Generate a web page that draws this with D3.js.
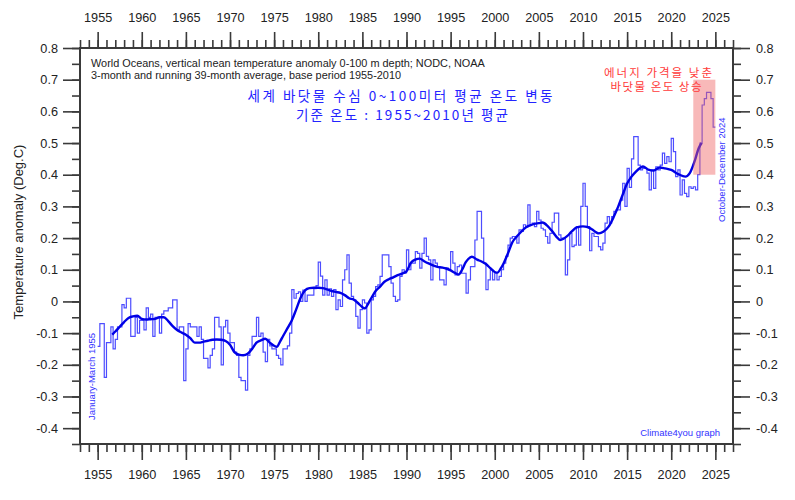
<!DOCTYPE html>
<html>
<head>
<meta charset="utf-8">
<script src="https://cdn.jsdelivr.net/npm/d3@7"></script>
<style>
  body { margin: 0; background: #fff; }
  svg { display: block; font-family: "Liberation Sans", Arial, sans-serif; }
</style>
</head>
<body>
<div id="chart"></div>
<script>
// 3-month values, Jan-Mar 1955 .. Oct-Dec 2024, four per year
var startYear = 1955;
var quarterly = [
  -0.142, -0.07, -0.07, -0.24,     // 1955
  -0.13, -0.13, -0.08, -0.15,
  -0.12, -0.08, -0.08, -0.01,
  -0.02, 0.01, 0.01, -0.11,
  -0.11, -0.05, -0.10, -0.06,
  -0.06, -0.09, -0.02, -0.05,      // 1960
  -0.04, -0.11, -0.05, -0.05,
  -0.10, -0.04, -0.03, -0.03,
  -0.02, -0.02, 0.005, 0.005,
  -0.09, -0.08, -0.08, -0.25,
  -0.15, -0.07, -0.08, -0.08,      // 1965
  -0.08, -0.11, -0.08, -0.12,
  -0.18, -0.18, -0.21, -0.17,
  -0.15, -0.05, -0.05, -0.08,
  -0.20, -0.08, -0.06, -0.10,
  -0.13, -0.13, -0.16, -0.17,      // 1970
  -0.24, -0.25, -0.25, -0.28,
  -0.17, -0.15, -0.11, -0.11,
  -0.05, -0.11, -0.10, -0.16,
  -0.19, -0.12, -0.14, -0.15,
  -0.15, -0.17, -0.18, -0.20,      // 1975
  -0.15, -0.15, -0.14, -0.10,
  0.037, 0.01, 0.025, 0.03,
  0.0, 0.036, 0.0, 0.02,
  0.02, 0.02, 0.04, 0.05,
  0.124, 0.08, 0.02, 0.068,        // 1980
  0.02, 0.04, 0.016, 0.037,
  -0.026, 0.005, -0.016, 0.068,
  0.10, 0.147, 0.058, 0.016,
  0.005, -0.047, -0.084, -0.026,
  0.005, -0.005, -0.10, -0.09,     // 1985
  0.005, 0.016, 0.047, 0.052,
  0.079, 0.147, 0.147, 0.147,
  0.11, 0.058, 0.016, 0.0,
  0.005, 0.079, 0.10, 0.09,
  0.163, 0.10, 0.121, 0.121,       // 1990
  0.157, 0.152, 0.105, 0.152,
  0.20, 0.142, 0.131, 0.068,
  0.131, 0.121, 0.11, 0.068,
  0.068, 0.052, 0.105, 0.10,
  0.157, 0.121, 0.084, 0.11,       // 1995
  0.115, 0.089, 0.089, 0.026,
  0.068, 0.11, 0.11, 0.194,
  0.284, 0.284, 0.20, 0.121,
  0.037, 0.068, 0.10, 0.068,
  0.089, 0.068, 0.079, 0.10,       // 2000
  0.121, 0.142, 0.178, 0.20,
  0.205, 0.205, 0.184, 0.226,
  0.221, 0.242, 0.236, 0.305,
  0.242, 0.247, 0.236, 0.284,
  0.257, 0.231, 0.226, 0.205,      // 2005
  0.184, 0.215, 0.25, 0.279,
  0.279, 0.21, 0.20, 0.20,
  0.084, 0.131, 0.215, 0.173,
  0.178, 0.236, 0.178, 0.30,
  0.373, 0.30, 0.236, 0.16,        // 2010
  0.215, 0.205, 0.205, 0.173,
  0.163, 0.184, 0.247, 0.268,
  0.247, 0.268, 0.284, 0.289,
  0.289, 0.32, 0.373, 0.30,
  0.42, 0.36, 0.45, 0.52,          // 2015
  0.52, 0.43, 0.415, 0.42,
  0.42, 0.405, 0.352, 0.415,
  0.357, 0.425, 0.415, 0.43,
  0.468, 0.436, 0.457, 0.441,
  0.515, 0.473, 0.394, 0.415,      // 2020
  0.336, 0.384, 0.341, 0.331,
  0.362, 0.357, 0.362, 0.352,
  0.40, 0.50, 0.62, 0.64,
  0.66, 0.66, 0.64, 0.55
];

// running 39-month average
var avgYears = [
  1956.65, 1957, 1957.5, 1958, 1958.5, 1959, 1959.5, 1960, 1960.5, 1961, 1961.5, 1962, 1962.5,
  1963, 1963.5, 1964, 1964.5, 1965, 1965.5, 1966, 1966.5, 1967, 1967.5, 1968, 1968.5, 1969,
  1969.5, 1970, 1970.5, 1971, 1971.5, 1972, 1972.5, 1973, 1973.5, 1974, 1974.5, 1975, 1975.3,
  1975.7, 1976, 1976.5, 1977, 1977.5, 1978, 1978.5, 1979, 1979.5, 1980, 1980.5, 1981, 1981.5,
  1982, 1982.5, 1983, 1983.5, 1984, 1984.5, 1985, 1985.3, 1985.6, 1986, 1986.5, 1987, 1987.5,
  1988, 1988.5, 1989, 1989.5, 1990, 1990.5, 1991, 1991.5, 1992, 1992.5, 1993, 1993.5, 1994,
  1994.5, 1995, 1995.5, 1995.9, 1996.3, 1996.7, 1997, 1997.4, 1998, 1998.5, 1999, 1999.5, 2000,
  2000.3, 2000.7, 2001, 2001.5, 2002, 2002.5, 2003, 2003.5, 2004, 2004.5, 2005, 2005.4, 2006,
  2006.5, 2007, 2007.4, 2007.8, 2008.2, 2008.7, 2009.3, 2010, 2010.5, 2011, 2011.5, 2011.8,
  2012.3, 2012.9, 2013.5, 2014, 2014.5, 2015, 2015.5, 2016, 2016.5, 2016.8, 2017.4, 2018,
  2018.7, 2019.3, 2020, 2020.8, 2021.6, 2022.1, 2022.7, 2023.1, 2023.45
];
var avgValues = [
  -0.105, -0.095, -0.08, -0.065, -0.052, -0.047, -0.045, -0.055, -0.057, -0.056, -0.055, -0.05, -0.05,
  -0.062, -0.078, -0.09, -0.098, -0.105, -0.116, -0.13, -0.13, -0.127, -0.124, -0.121, -0.12, -0.121,
  -0.125, -0.137, -0.16, -0.168, -0.17, -0.165, -0.15, -0.13, -0.123, -0.118, -0.13, -0.14, -0.143,
  -0.125, -0.11, -0.085, -0.06, -0.025, 0.012, 0.035, 0.042, 0.043, 0.043, 0.042, 0.038, 0.033,
  0.03, 0.027, 0.02, 0.01, 0.006, -0.005, -0.018, -0.022, -0.01, 0.01, 0.033, 0.047, 0.062,
  0.07, 0.076, 0.083, 0.088, 0.095, 0.122, 0.132, 0.135, 0.127, 0.12, 0.114, 0.109, 0.107,
  0.104, 0.098, 0.09, 0.085, 0.10, 0.123, 0.134, 0.141, 0.132, 0.126, 0.118, 0.105, 0.093,
  0.091, 0.105, 0.12, 0.152, 0.187, 0.205, 0.22, 0.233, 0.24, 0.245, 0.247, 0.249, 0.238,
  0.222, 0.204, 0.194, 0.198, 0.206, 0.22, 0.234, 0.237, 0.235, 0.228, 0.218, 0.215,
  0.22, 0.236, 0.268, 0.30, 0.337, 0.372, 0.394, 0.41, 0.422, 0.426, 0.416, 0.413,
  0.423, 0.42, 0.415, 0.402, 0.394, 0.405, 0.447, 0.483, 0.50
];

var yearMajor = d3.range(1955, 2026, 5);
var yearMinor = d3.range(1953, 2028);
var tempMajor = d3.range(-4, 9).map(d => d / 10);
var tempMinor = d3.range(-9, 17).map(d => d / 20);

var highlight = {x0: 2022.5, x1: 2025, y0: 0.4, y1: 0.7};

var width = 795, height = 500;
var margin = {top: 48, right: 62, bottom: 56, left: 80};

var svg = d3.select("#chart").append("svg")
    .attr("width", width)
    .attr("height", height);

var x = d3.scaleLinear()
    .domain([1953, 2027])
    .range([margin.left, width - margin.right]);

var y = d3.scaleLinear()
    .domain([-0.45, 0.8])
    .range([height - margin.bottom, margin.top]);

var axisColor = "#3a3a3a";
var fmt = d => String(+d.toFixed(2));

function styleAxis(g) {
    g.select(".domain").remove();
    g.selectAll(".tick line").attr("stroke", axisColor).attr("stroke-width", 1.6);
    g.selectAll(".tick text")
        .attr("fill", "#222")
        .style("font-size", "12.7px")
        .style("font-family", "'Liberation Sans', Arial, sans-serif");
}

// minor ticks first, then major ones with labels
svg.append("g").attr("transform", `translate(${margin.left},0)`)
    .call(d3.axisLeft(y).tickValues(tempMinor).tickSize(8).tickFormat(""))
    .call(styleAxis);
svg.append("g").attr("transform", `translate(${margin.left},0)`)
    .call(d3.axisLeft(y).tickValues(tempMajor).tickSize(17).tickPadding(5).tickFormat(fmt))
    .call(styleAxis);

svg.append("g").attr("transform", `translate(${width - margin.right},0)`)
    .call(d3.axisRight(y).tickValues(tempMinor).tickSize(8).tickFormat(""))
    .call(styleAxis);
svg.append("g").attr("transform", `translate(${width - margin.right},0)`)
    .call(d3.axisRight(y).tickValues(tempMajor).tickSize(17).tickPadding(6).tickFormat(fmt))
    .call(styleAxis);

svg.append("g").attr("transform", `translate(0,${margin.top})`)
    .call(d3.axisTop(x).tickValues(yearMinor).tickSize(8).tickFormat(""))
    .call(styleAxis);
svg.append("g").attr("transform", `translate(0,${margin.top})`)
    .call(d3.axisTop(x).tickValues(yearMajor).tickSize(16).tickPadding(10).tickFormat(d3.format("d")))
    .call(styleAxis);

svg.append("g").attr("transform", `translate(0,${height - margin.bottom})`)
    .call(d3.axisBottom(x).tickValues(yearMinor).tickSize(8).tickFormat(""))
    .call(styleAxis);
svg.append("g").attr("transform", `translate(0,${height - margin.bottom})`)
    .call(d3.axisBottom(x).tickValues(yearMajor).tickSize(16).tickPadding(10).tickFormat(d3.format("d")))
    .call(styleAxis);

svg.append("rect")
    .attr("x", x(1953))
    .attr("y", y(0.8))
    .attr("width", x(2027) - x(1953))
    .attr("height", y(-0.45) - y(0.8))
    .attr("fill", "none")
    .attr("stroke", axisColor)
    .attr("stroke-width", 2);

// step series: each quarter holds its value for a quarter of a year
var steps = quarterly.map((v, i) => ({t: startYear + i / 4, v: v}));
steps.push({t: startYear + quarterly.length / 4, v: quarterly[quarterly.length - 1]});

svg.append("path")
    .datum(steps)
    .attr("fill", "none")
    .attr("stroke", "#4d4dff")
    .attr("stroke-width", 1.2)
    .attr("d", d3.line().x(d => x(d.t)).y(d => y(d.v)).curve(d3.curveStepAfter));

var avg = avgYears.map((t, i) => ({t: t, v: avgValues[i]}));

svg.append("path")
    .datum(avg)
    .attr("fill", "none")
    .attr("stroke", "#0000e6")
    .attr("stroke-width", 2.4)
    .attr("stroke-linejoin", "round")
    .attr("d", d3.line().x(d => x(d.t)).y(d => y(d.v)).curve(d3.curveMonotoneX));

svg.append("rect")
    .attr("x", x(highlight.x0))
    .attr("y", y(highlight.y1))
    .attr("width", x(highlight.x1) - x(highlight.x0))
    .attr("height", y(highlight.y0) - y(highlight.y1))
    .attr("fill", "rgb(240,100,100)")
    .attr("fill-opacity", 0.45);

// texts
svg.append("text")
    .attr("transform", "translate(23,232) rotate(-90)")
    .attr("text-anchor", "middle")
    .style("font-size", "13px")
    .attr("fill", "#222")
    .text("Temperature anomaly (Deg.C)");

var note = svg.append("text")
    .style("font-size", "10.9px")
    .attr("fill", "#222");
note.append("tspan").attr("x", 91).attr("y", 66.5)
    .text("World Oceans, vertical mean temperature anomaly 0-100 m depth; NODC, NOAA");
note.append("tspan").attr("x", 91).attr("y", 79)
    .text("3-month and running 39-month average, base period 1955-2010");

var kr = svg.append("g")
    .style("font-family", "'Noto Sans CJK KR', sans-serif")
    .attr("fill", "#2424ff")
    .attr("text-anchor", "middle");
kr.append("text").attr("x", 400).attr("y", 101).style("font-size", "13.5px")
    .attr("textLength", 305).attr("lengthAdjust", "spacing")
    .text("세계 바닷물 수심 0~100미터 평균 온도 변동");
kr.append("text").attr("x", 402).attr("y", 119.5).style("font-size", "13.5px")
    .attr("textLength", 212).attr("lengthAdjust", "spacing")
    .text("기준 온도 : 1955~2010년 평균");

var red = svg.append("g")
    .style("font-family", "'Noto Sans CJK KR', sans-serif")
    .attr("fill", "#ff3b3b")
    .attr("text-anchor", "middle");
red.append("text").attr("x", 658).attr("y", 76.5).style("font-size", "11.5px")
    .attr("textLength", 108).attr("lengthAdjust", "spacing")
    .text("에너지 가격을 낮춘");
red.append("text").attr("x", 656).attr("y", 91).style("font-size", "11.5px")
    .attr("textLength", 91).attr("lengthAdjust", "spacing")
    .text("바닷물 온도 상승");

svg.append("text")
    .attr("transform", "translate(95,420) rotate(-90)")
    .style("font-size", "9.5px")
    .attr("fill", "#3333ff")
    .text("January-March 1955");

svg.append("text")
    .attr("transform", "translate(725,222) rotate(-90)")
    .style("font-size", "9.5px")
    .attr("fill", "#3333ff")
    .text("October-December 2024");

svg.append("text")
    .attr("x", 720)
    .attr("y", 436)
    .attr("text-anchor", "end")
    .style("font-size", "9.5px")
    .attr("fill", "#3333ff")
    .text("Climate4you graph");
</script>
</body>
</html>
